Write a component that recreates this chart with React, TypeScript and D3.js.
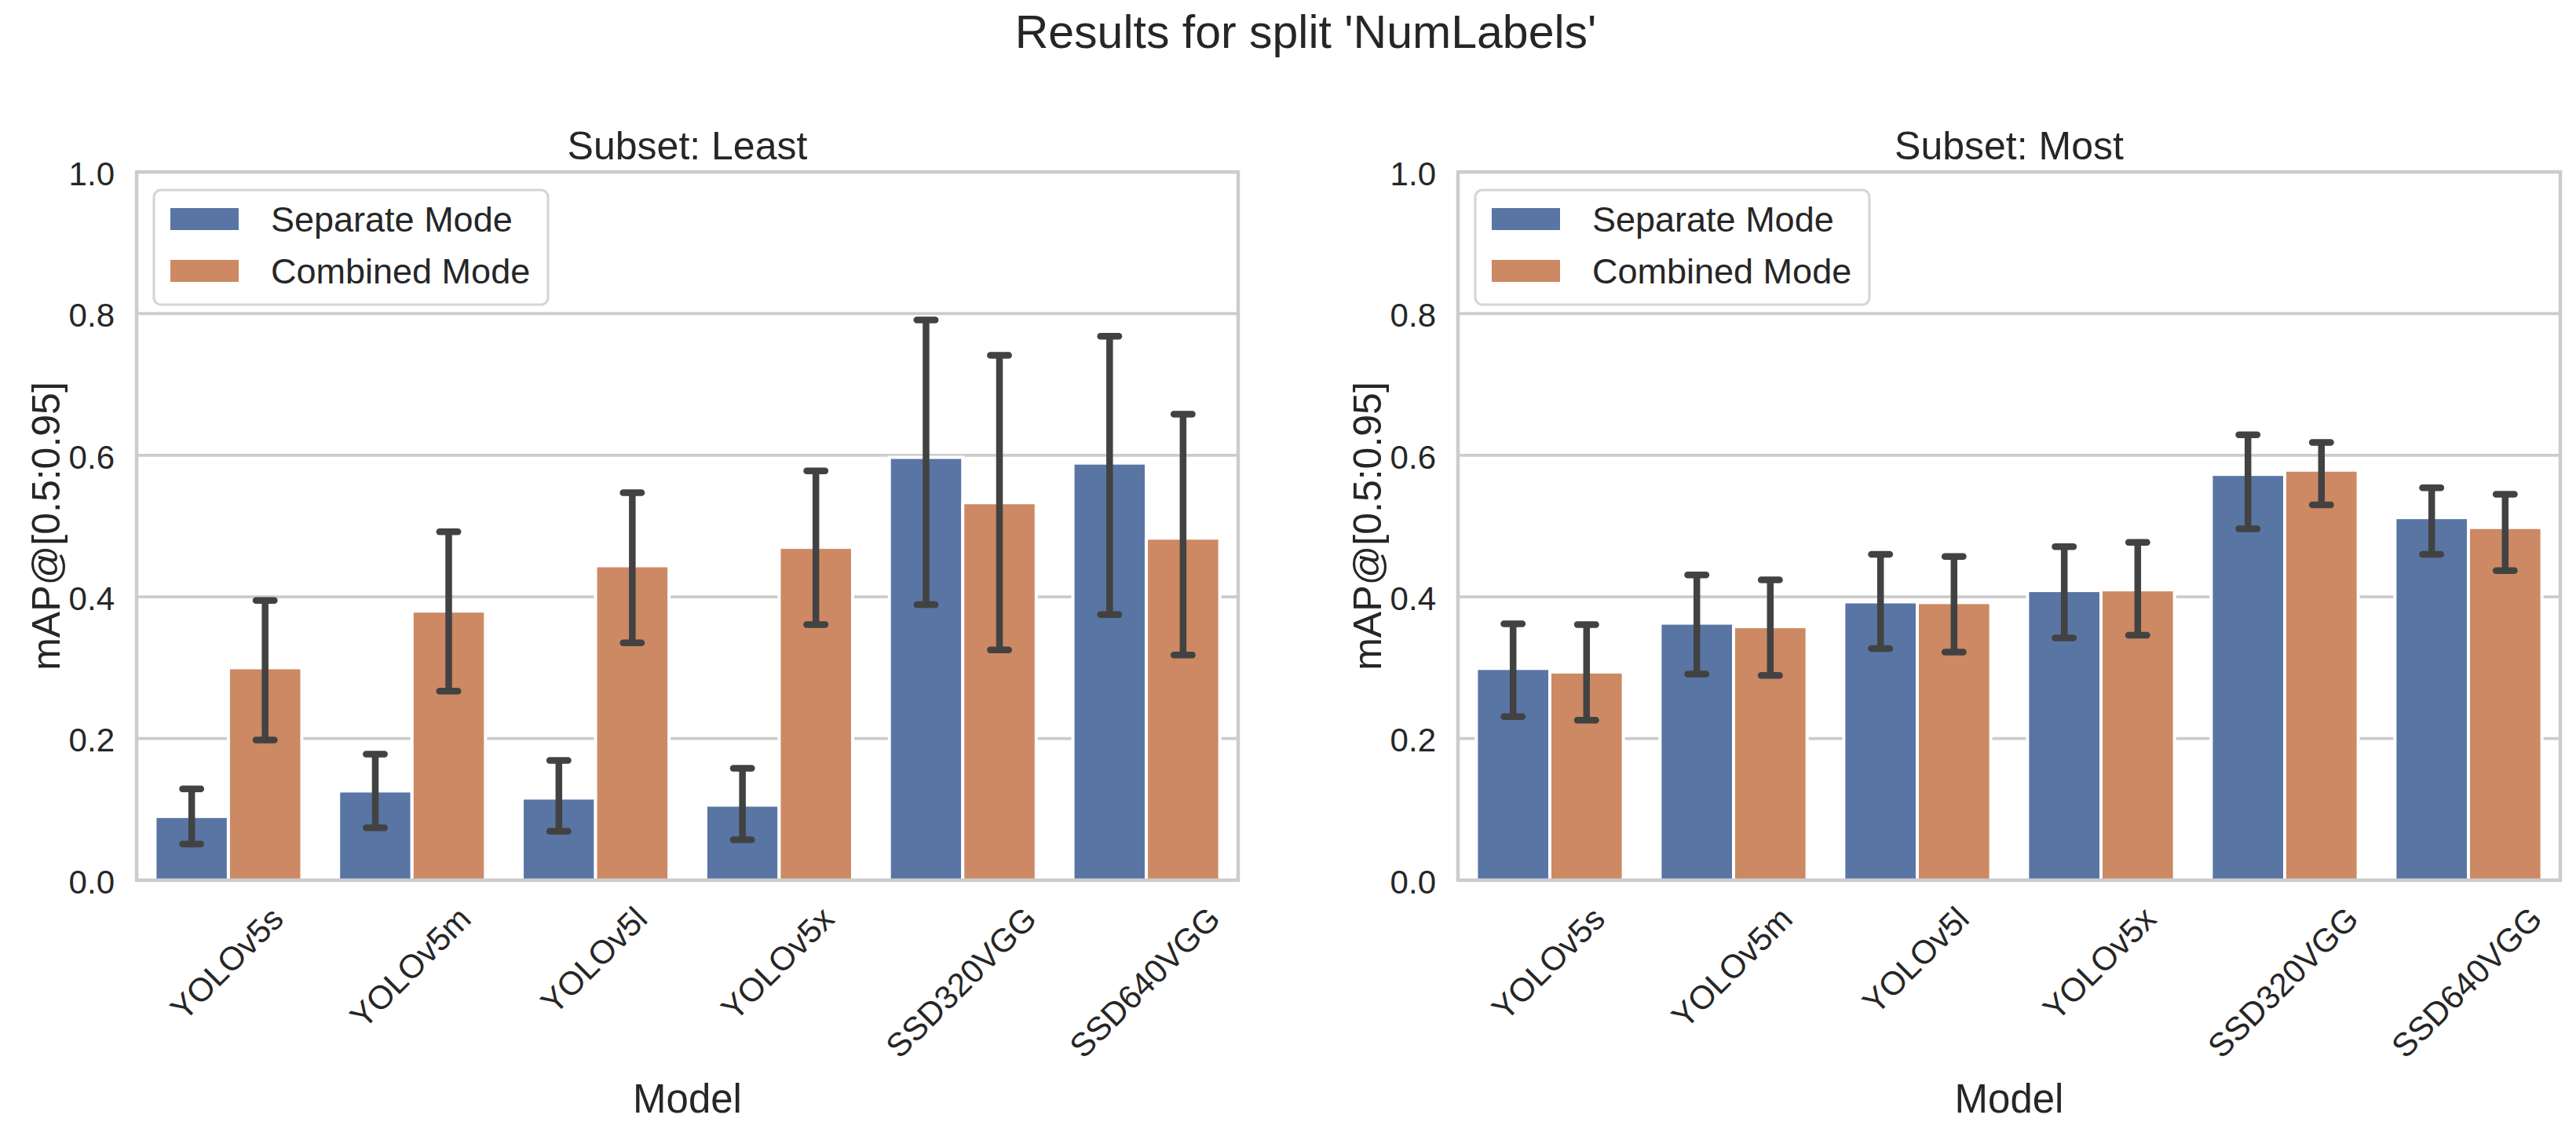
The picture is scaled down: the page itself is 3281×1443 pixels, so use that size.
import React, { useEffect, useRef } from 'react';
import * as d3 from 'd3';

const models = ['YOLOv5s', 'YOLOv5m', 'YOLOv5l', 'YOLOv5x', 'SSD320VGG', 'SSD640VGG'];
const modes = ['Separate Mode', 'Combined Mode'];
const yTicks = [0, 0.2, 0.4, 0.6, 0.8, 1.0];

// Subset: Least
const leastSeparate = [0.09, 0.126, 0.116, 0.106, 0.597, 0.589];
const leastSeparateLo = [0.051, 0.074, 0.069, 0.057, 0.389, 0.375];
const leastSeparateHi = [0.129, 0.178, 0.169, 0.158, 0.791, 0.768];
const leastCombined = [0.3, 0.38, 0.444, 0.47, 0.533, 0.483];
const leastCombinedLo = [0.198, 0.267, 0.335, 0.361, 0.325, 0.318];
const leastCombinedHi = [0.395, 0.492, 0.547, 0.578, 0.741, 0.658];

// Subset: Most
const mostSeparate = [0.299, 0.363, 0.393, 0.409, 0.573, 0.512];
const mostSeparateLo = [0.231, 0.291, 0.327, 0.342, 0.496, 0.46];
const mostSeparateHi = [0.362, 0.431, 0.46, 0.471, 0.629, 0.554];
const mostCombined = [0.294, 0.358, 0.392, 0.41, 0.579, 0.498];
const mostCombinedLo = [0.226, 0.289, 0.322, 0.346, 0.53, 0.437];
const mostCombinedHi = [0.361, 0.424, 0.457, 0.477, 0.618, 0.545];

const W = 3281;
const H = 1443;
const FONT = '"Liberation Sans", Arial, sans-serif';
const TEXT = '#262626';
const GRID = '#cccccc';
const colors = ['#5975a4', '#cc8963'];

const top = 219;
const bottom = 1121;

interface Panel {
  title: string;
  x0: number;
  x1: number;
  means: number[][];
  lo: number[][];
  hi: number[][];
}

const panels: Panel[] = [
  {
    title: 'Subset: Least',
    x0: 174,
    x1: 1577,
    means: [leastSeparate, leastCombined],
    lo: [leastSeparateLo, leastCombinedLo],
    hi: [leastSeparateHi, leastCombinedHi],
  },
  {
    title: 'Subset: Most',
    x0: 1857,
    x1: 3261,
    means: [mostSeparate, mostCombined],
    lo: [mostSeparateLo, mostCombinedLo],
    hi: [mostSeparateHi, mostCombinedHi],
  },
];

const y = d3.scaleLinear().domain([0, 1]).range([bottom, top]);

const PanelView: React.FC<{ p: Panel }> = ({ p }) => {
  const x = d3.scaleBand<string>().domain(models).range([p.x0, p.x1]).paddingInner(0.2).paddingOuter(0.1);
  const hue = d3.scaleBand<string>().domain(modes).range([0, x.bandwidth()]);
  const step = x.step();
  const capHalf = step * 0.05;
  const cx = (p.x0 + p.x1) / 2;

  return (
    <g>
      {/* grid */}
      {yTicks.map((t) => (
        <line key={t} x1={p.x0} x2={p.x1} y1={y(t)} y2={y(t)} stroke={GRID} strokeWidth={3.8} />
      ))}
      {/* bars */}
      {modes.map((m, mi) =>
        models.map((mod, i) => (
          <rect
            key={m + mod}
            x={(x(mod) as number) + (hue(m) as number)}
            y={y(p.means[mi][i])}
            width={hue.bandwidth()}
            height={y(0) - y(p.means[mi][i])}
            fill={colors[mi]}
            stroke="#ffffff"
            strokeWidth={4}
          />
        ))
      )}
      {/* error bars */}
      {modes.map((m, mi) =>
        models.map((mod, i) => {
          const bx = (x(mod) as number) + (hue(m) as number) + hue.bandwidth() / 2;
          const ylo = y(p.lo[mi][i]);
          const yhi = y(p.hi[mi][i]);
          return (
            <g key={'e' + m + mod} stroke="#424242" strokeWidth={8.5} strokeLinecap="round">
              <line x1={bx} x2={bx} y1={ylo} y2={yhi} strokeLinecap="butt" />
              <line x1={bx - capHalf} x2={bx + capHalf} y1={ylo} y2={ylo} />
              <line x1={bx - capHalf} x2={bx + capHalf} y1={yhi} y2={yhi} />
            </g>
          );
        })
      )}
      {/* spines */}
      <rect x={p.x0} y={top} width={p.x1 - p.x0} height={bottom - top} fill="none" stroke={GRID} strokeWidth={4.5} />
      {/* y tick labels */}
      {yTicks.map((t) => (
        <text key={'yt' + t} x={p.x0 - 28} y={y(t)} dy="0.4em" textAnchor="end" fontSize={42} fill={TEXT}>
          {t.toFixed(1)}
        </text>
      ))}
      {/* x tick labels (positioned in effect) */}
      {models.map((mod) => (
        <text
          key={'xt' + mod}
          className="xtick"
          data-cx={(x(mod) as number) + x.bandwidth() / 2}
          textAnchor="end"
          fontSize={42}
          fill={TEXT}
        >
          {mod}
        </text>
      ))}
      {/* axis labels and title */}
      <text x={cx} y={1417} textAnchor="middle" fontSize={51} fill={TEXT}>
        Model
      </text>
      <text
        transform={`translate(${p.x0 - 98},${(top + bottom) / 2}) rotate(-90)`}
        textAnchor="middle"
        fontSize={50}
        fill={TEXT}
      >
        mAP@[0.5:0.95]
      </text>
      <text x={cx} y={203} textAnchor="middle" fontSize={50} fill={TEXT}>
        {p.title}
      </text>
      {/* legend */}
      <g transform={`translate(${p.x0 + 22},${top + 23})`}>
        <rect x={0} y={0} width={502} height={146} rx={9} fill="#ffffff" fillOpacity={0.8} stroke="#d6d6d6" strokeWidth={3.2} />
        {modes.map((m, mi) => (
          <g key={'lg' + m} transform={`translate(0,${mi * 66})`}>
            <rect x={21} y={23} width={87} height={28} fill={colors[mi]} />
            <text x={149} y={53} fontSize={45} fill={TEXT}>
              {m}
            </text>
          </g>
        ))}
      </g>
    </g>
  );
};

const App: React.FC = () => {
  const svgRef = useRef<SVGSVGElement>(null);

  useEffect(() => {
    document.body.style.margin = '0';
    if (!svgRef.current) return;
    d3.select(svgRef.current)
      .selectAll<SVGTextElement, unknown>('text.xtick')
      .each(function () {
        const el = this as SVGTextElement;
        const L = el.getComputedTextLength();
        const tx = Number(el.getAttribute('data-cx'));
        const ax = tx + 0.3536 * (L + 23);
        const ay = 1173;
        d3.select(el).attr('transform', `translate(${ax},${ay}) rotate(-45)`);
      });
  }, []);

  return (
    <svg ref={svgRef} width={W} height={H} style={{ display: 'block', background: '#ffffff' }} fontFamily={FONT}>
      <rect x={0} y={0} width={W} height={H} fill="#ffffff" />
      <text x={1663} y={61} textAnchor="middle" fontSize={59} fill={TEXT}>
        Results for split 'NumLabels'
      </text>
      {panels.map((p) => (
        <PanelView key={p.title} p={p} />
      ))}
    </svg>
  );
};

export default App;
